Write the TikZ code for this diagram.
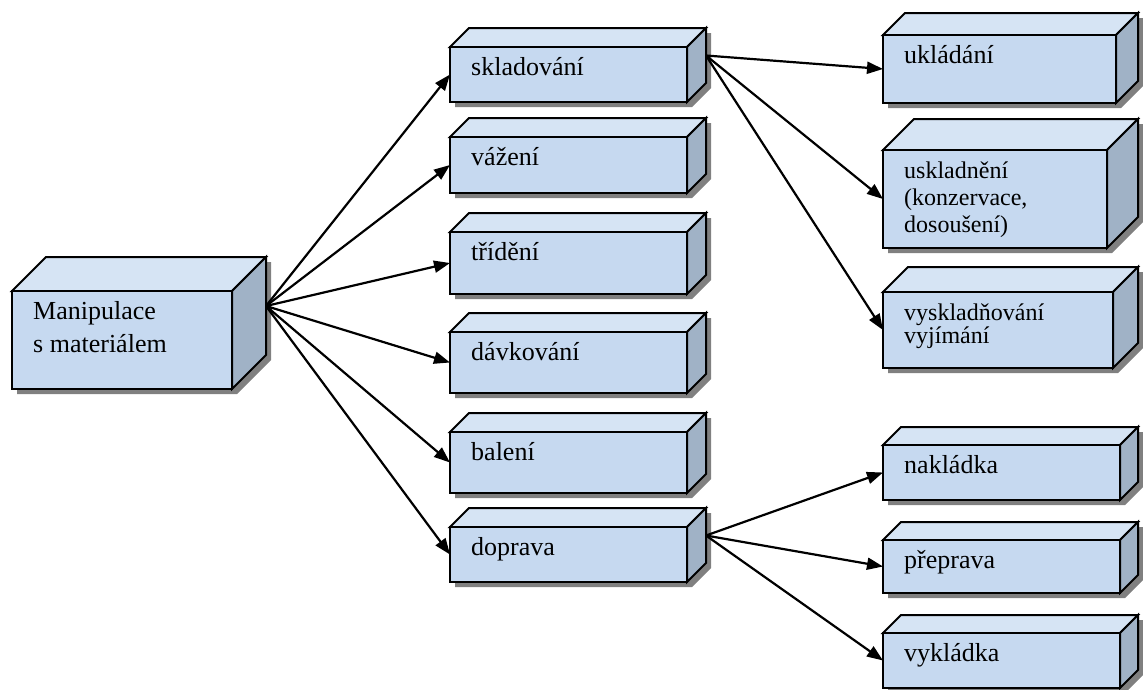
\documentclass[tikz,border=0pt]{standalone}
\usepackage{fontspec}
\setmainfont{Liberation Serif}
\usetikzlibrary{arrows.meta}
\definecolor{frontc}{RGB}{198,217,240}
\definecolor{topc}{RGB}{214,228,244}
\definecolor{sidec}{RGB}{160,178,198}
\definecolor{shadc}{RGB}{128,128,128}
\tikzset{
  boxline/.style={draw=black, line width=2pt, line join=miter},
  frontface/.style={boxline, fill=frontc, inner sep=0pt, outer sep=0pt, anchor=north west},
  lbl/.style={anchor=base west, inner sep=0pt, font=\fontsize{26}{30}\selectfont},
  arr/.style={line width=2.2pt, -{Triangle[length=16pt,width=12pt]}},
}
% #1 name, #2 left, #3 top, #4 right (front), #5 bottom, #6 depth, #7 text
\newcommand\mycube[7]{%
  \pgfmathsetmacro\cubeW{#4-#2}\pgfmathsetmacro\cubeH{#5-#3}%
  \fill[shadc] (#2+5,#5+5) -- (#2+5,#3+5) -- (#2+#6+5,#3-#6+5) -- (#4+#6+5,#3-#6+5)
     -- (#4+#6+5,#5-#6+5) -- (#4+5,#5+5) -- cycle;
  \filldraw[boxline, fill=topc] (#2,#3) -- (#2+#6,#3-#6) -- (#4+#6,#3-#6) -- (#4,#3) -- cycle;
  \filldraw[boxline, fill=sidec] (#4,#3) -- (#4+#6,#3-#6) -- (#4+#6,#5-#6) -- (#4,#5) -- cycle;
  \node[frontface, minimum width=\cubeW pt, minimum height=\cubeH pt] (#1) at (#2,#3) {};
  \coordinate (#1-o) at (#4+#6, {(#3+#5)/2-#6});
  \node[lbl] (#1-t) at (#2+21,#3+28.5) {#7};
}
\begin{document}
\begin{tikzpicture}[x=1pt,y=-1pt]
\useasboundingbox (0,0) rectangle (1143,689);
\fill[white] (0,0) rectangle (1143,689);
% left
\mycube{man}{12}{291}{232}{389}{34}{\vtop{\baselineskip=33pt\hbox{Manipulace}\hbox{s materiálem}}}
% middle column
\mycube{skl}{450}{47}{687}{102}{19}{skladování}
\mycube{vaz}{450}{137}{687}{193}{19}{vážení}
\mycube{tri}{450}{232}{687}{294}{19}{třídění}
\mycube{dav}{450}{332}{687}{393}{19}{dávkování}
\mycube{bal}{450}{432}{687}{493}{19}{balení}
\mycube{dop}{450}{527}{687}{582}{19}{doprava}
% right column
\mycube{ukl}{883}{35}{1116}{103}{22}{ukládání}
\mycube{usk}{883}{150}{1107}{248}{31}{\fontsize{24}{27}\selectfont\vtop{\baselineskip=27pt\hbox{uskladnění}\hbox{(konzervace,}\hbox{dosoušení)}}}
\mycube{vys}{883}{292}{1113}{368}{25}{\fontsize{24}{27}\selectfont\vtop{\baselineskip=23pt\hbox{vyskladňování}\hbox{vyjímání}}}
\mycube{nak}{883}{445}{1120}{500}{18}{nakládka}
\mycube{pre}{883}{540}{1120}{593}{18}{přeprava}
\mycube{vyk}{883}{633}{1120}{688}{18}{vykládka}
% connectors
\foreach \t in {skl,vaz,tri,dav,bal,dop} \draw[arr] (man-o) -- (\t.west);
\foreach \t in {ukl,usk,vys} \draw[arr] (skl-o) -- (\t.west);
\foreach \t in {nak,pre,vyk} \draw[arr] (dop-o) -- (\t.west);
\end{tikzpicture}
\end{document}
